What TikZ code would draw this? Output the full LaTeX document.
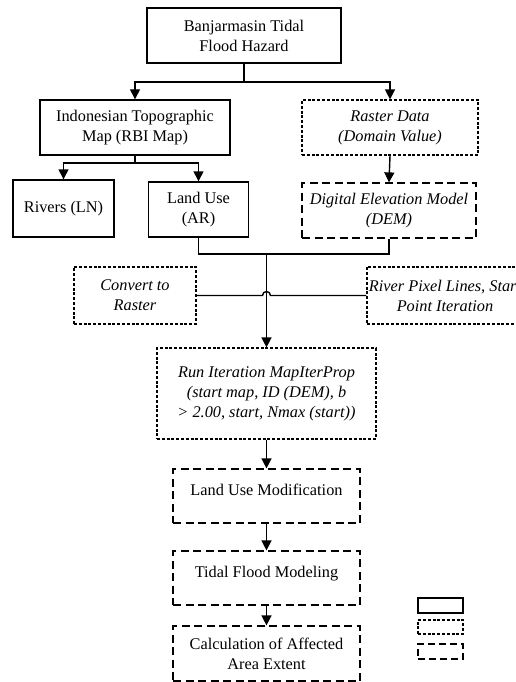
\documentclass[tikz,border=0pt]{standalone}
\usepackage{fontspec}
\setmainfont{Liberation Serif}
\usepackage{tikz}
\usetikzlibrary{arrows.meta,positioning}

\tikzset{
  solidbox/.style={draw, line width=1.4pt, align=center, inner sep=2pt},
  dotbox/.style={draw, line width=1.2pt, dash pattern=on 3pt off 1.8pt, align=center, inner sep=2pt},
  dashbox/.style={draw, line width=1.2pt, dash pattern=on 8pt off 4.5pt, align=center, inner sep=2pt},
  conn/.style={line width=1.4pt},
  arr/.style={conn, -{Triangle[width=10pt,length=10pt]}}
}

\begin{document}
\begin{tikzpicture}[x=1pt,y=-1pt,font=\fontsize{16.3}{20}\selectfont]

\useasboundingbox (0,0) rectangle (516,682);

\node[solidbox, minimum width=194pt, minimum height=55pt] (title) at (244,35.5) {Banjarmasin Tidal\\Flood Hazard};

\node[solidbox, minimum width=190pt, minimum height=55pt] (topo) at (135,127.5) {Indonesian Topographic\\Map (RBI Map)};
\node[dotbox, minimum width=176pt, minimum height=55pt] (raster) at (390,127.5) {\itshape Raster Data\\\itshape (Domain Value)};

\node[solidbox, minimum width=101pt, minimum height=57pt] (rivers) at (63.5,208.5) {Rivers (LN)};
\node[solidbox, minimum width=100pt, minimum height=55pt] (landuse) at (198.5,209.5) {Land Use\\(AR)};
\node[dashbox, minimum width=174pt, minimum height=55pt] (dem) at (389,210.5) {\itshape Digital Elevation Model\\\itshape (DEM)};

\node[dotbox, minimum width=122pt, minimum height=57pt] (convert) at (135,295.5) {\itshape Convert to\\\itshape Raster};
\node[dotbox, minimum width=156pt, minimum height=57pt] (riverpix) at (445,295.5) {\itshape River Pixel Lines, Start\\\itshape Point Iteration};

\node[dotbox, minimum width=219pt, minimum height=91pt] (run) at (266.5,393.5) {\itshape Run Iteration MapIterProp\\\itshape (start map, ID (DEM), b\\\itshape > 2.00, start, Nmax (start))};

\node[dashbox, minimum width=187pt, minimum height=54pt, text depth=12pt] (lumod) at (266.5,496) {Land Use Modification};
\node[dashbox, minimum width=187pt, minimum height=54pt, text depth=12pt] (tidal) at (266.5,578) {Tidal Flood Modeling};
\node[dashbox, minimum width=187pt, minimum height=55pt] (calc) at (266.5,653.5) {Calculation of Affected\\Area Extent};

% legend
\node[solidbox, line width=1.2pt, minimum width=45pt, minimum height=15pt, inner sep=0pt] (legsolid) at (440.5,605.5) {};
\node[dotbox, minimum width=45pt, minimum height=14pt, inner sep=0pt] (legdot) at (440.5,627) {};
\node[dashbox, dash pattern=on 7pt off 4pt, minimum width=45pt, minimum height=15pt, inner sep=0pt] (legdash) at (440.5,651.5) {};

% connectors
\coordinate (j1) at (title.south |- 0,82);
\draw[conn] (title.south) -- (j1);
\draw[arr] (j1) -| (topo.north);
\draw[arr] (j1) -| (raster.north);

\coordinate (j2) at (topo.south |- 0,163);
\draw[conn] (topo.south) -- (j2);
\draw[arr] (j2) -| (rivers.north);
\draw[arr] (j2) -| (landuse.north);

\draw[arr] (raster.south) -- (dem.north);

\coordinate (j3) at (run.north |- 0,254);
\draw[conn] (landuse.south) |- (j3);
\draw[conn] (dem.south) |- (j3);
\draw[arr] (j3) -- (run.north);

\coordinate (hop) at (run.north |- convert.east);
\draw[conn] (convert.east) -- ([xshift=-4pt]hop) arc[start angle=180, end angle=0, radius=4pt] -- (riverpix.west);

\draw[arr] (run.south) -- (lumod.north);
\draw[arr] (lumod.south) -- (tidal.north);
\draw[arr] (tidal.south) -- (calc.north);

\end{tikzpicture}
\end{document}
